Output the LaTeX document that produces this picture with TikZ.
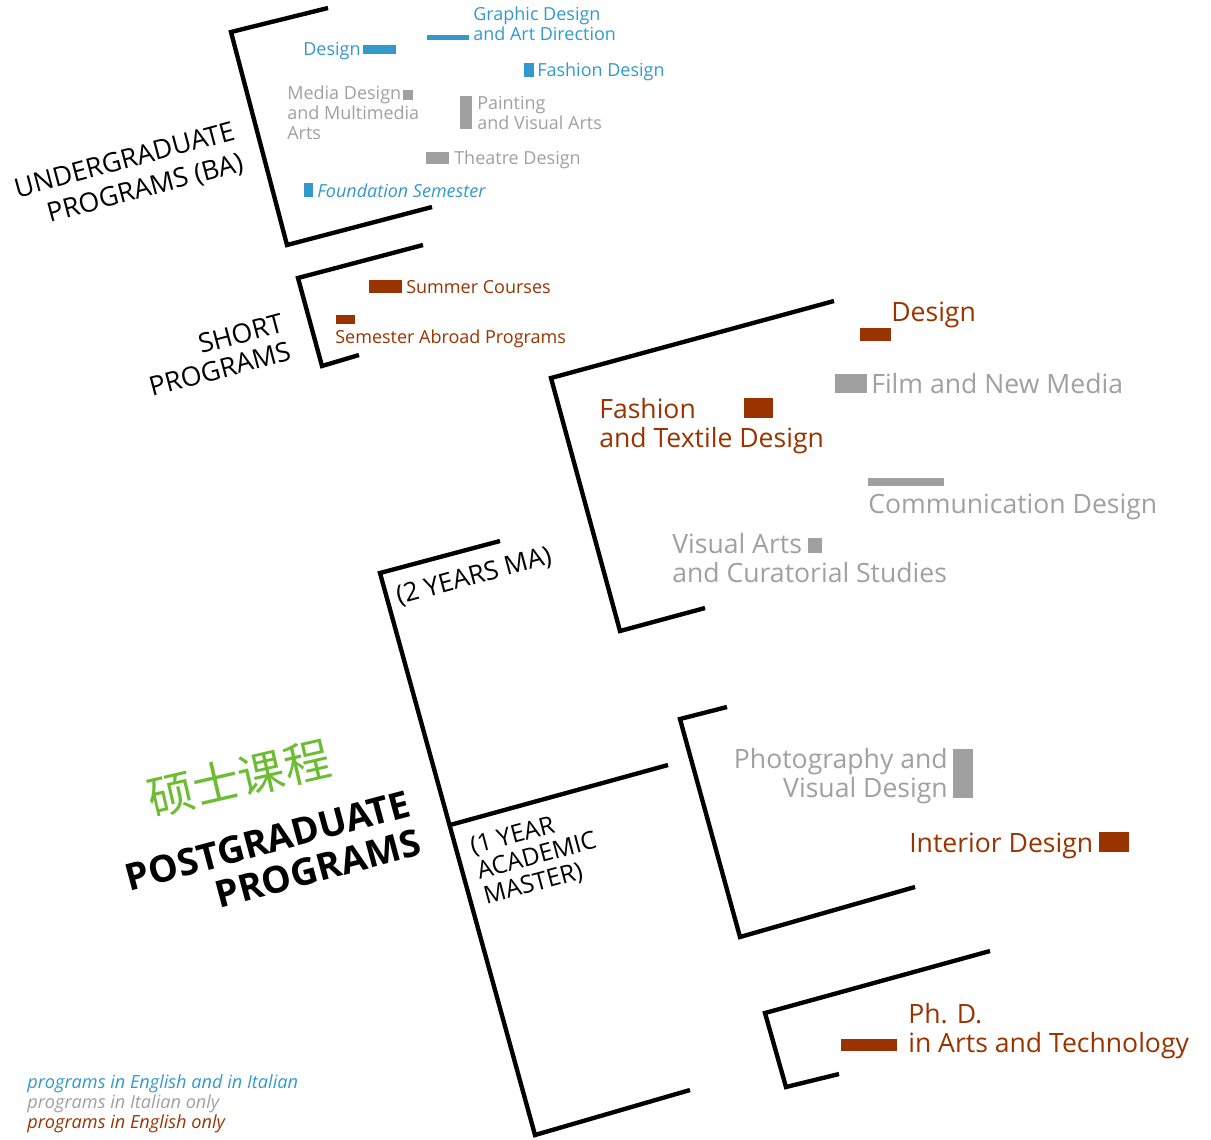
\documentclass[tikz,border=0pt]{standalone}
\usepackage{fontspec}
\setmainfont{Open Sans}
\newfontfamily\cjk{Noto Sans CJK SC}
\definecolor{enit}{RGB}{51,153,204}
\definecolor{itonly}{RGB}{160,160,160}
\definecolor{enonly}{RGB}{153,51,0}
\definecolor{cngreen}{RGB}{108,189,51}
\begin{document}
\begin{tikzpicture}[x=0.025cm,y=-0.025cm]
\tikzstyle{bracket}=[line width=3.1pt,black]
\tikzstyle{small}=[inner sep=0,align=left,anchor=base west,font=\fontsize{12.8}{14}\selectfont]
\tikzstyle{big}=[inner sep=0,align=left,anchor=base west,font=\fontsize{18.9}{20.6}\selectfont]
\tikzstyle{level}=[inner sep=0,rotate=15,font=\fontsize{19}{23}\selectfont]
\tikzstyle{key}=[small,font=\itshape\fontsize{12.9}{14.2}\selectfont]
\useasboundingbox (0,0) rectangle (1211,1139);

% brackets
\draw[bracket] (328,8) -- (231,32) -- (287,245) -- (432,207);
\draw[bracket] (423,245) -- (298,278) -- (322,366) -- (359,355);
\draw[bracket] (500,541) -- (380,573) -- (535,1135) -- (690,1090);
\draw[bracket] (450,825) -- (668,765);
\draw[bracket] (834,301) -- (551,378) -- (620,631) -- (705,608);
\draw[bracket] (727,707) -- (680,719) -- (740,937) -- (915,887);
\draw[bracket] (990,951) -- (765,1013) -- (786,1087) -- (839,1074);

% level labels
\node[level,align=right] (ug) at (129,177) {UNDERGRADUATE\\PROGRAMS (BA)};
\node[level,align=right,font=\fontsize{19}{20.5}\selectfont] (short) at (216,355) {SHORT\\PROGRAMS};
\node[level,align=right,font=\bfseries\fontsize{26.5}{28.5}\selectfont] (pg) at (273,860) {POSTGRADUATE\\PROGRAMS};
\node[inner sep=0,rotate=13,text=cngreen,font=\cjk\fontsize{33}{36}\selectfont] (cn) at (239,778) {硕士课程};
\node[level,font=\fontsize{18.5}{20}\selectfont] (ma2) at (474,577) {(2 YEARS MA)};
\node[level,align=left,font=\fontsize{17.5}{18.5}\selectfont] (ma1) at (537,857) {(1 YEAR\\ACADEMIC\\MASTER)};

% undergraduate programs
\node[small,text=enit] (ba-design) at (303,55) {Design};
\fill[enit] (363,45) rectangle (396,54);
\node[small,text=enit] (ba-graphic) at (473,40) {Graphic Design\\and Art Direction};
\fill[enit] (427,35) rectangle (469,40);
\node[small,text=enit] (ba-fashion) at (537,76) {Fashion Design};
\fill[enit] (524,63) rectangle (534,77);
\node[small,text=itonly] (ba-media) at (287,139) {Media Design\\and Multimedia\\Arts};
\fill[itonly] (403,90) rectangle (413,100);
\node[small,text=itonly] (ba-painting) at (477,129) {Painting\\and Visual Arts};
\fill[itonly] (460,96) rectangle (472,129);
\node[small,text=itonly] (ba-theatre) at (454,164) {Theatre Design};
\fill[itonly] (426,152) rectangle (449,164);
\node[small,text=enit,font=\itshape\fontsize{12.8}{14}\selectfont] (ba-found) at (317,197) {Foundation Semester};
\fill[enit] (304,183) rectangle (313,197);

% short programs
\node[small,text=enonly] (sh-summer) at (406,293) {Summer Courses};
\fill[enonly] (369,280) rectangle (402,293);
\node[small,text=enonly] (sh-abroad) at (335,343) {Semester Abroad Programs};
\fill[enonly] (336,315) rectangle (355,324);

% postgraduate programs
\node[big,text=enonly] (ma-design) at (891,321) {Design};
\fill[enonly] (860,328) rectangle (891,341);
\node[big,text=itonly] (ma-film) at (871,393) {Film and New Media};
\fill[itonly] (835,374) rectangle (867,393);
\node[big,text=enonly] (ma-fashion) at (599,447) {Fashion\\and Textile Design};
\fill[enonly] (744,398) rectangle (773,418);
\node[big,text=itonly] (ma-comm) at (868,513) {Communication Design};
\fill[itonly] (868,478) rectangle (944,486);
\node[big,text=itonly] (ma-visual) at (672,582) {Visual Arts\\and Curatorial Studies};
\fill[itonly] (808,538) rectangle (822,553);
\node[big,text=itonly,align=right,anchor=base east] (ma-photo) at (948,797) {Photography and\\Visual Design};
\fill[itonly] (953,749) rectangle (973,798);
\node[big,text=enonly] (ma-interior) at (909,852) {Interior Design};
\fill[enonly] (1099,832) rectangle (1129,852);
\node[big,text=enonly] (phd) at (908,1052) {Ph. D.\\in Arts and Technology};
\fill[enonly] (841,1039) rectangle (897,1051);

% legend
\node[key,text=enit] (key1) at (27,1088) {programs in English and in Italian};
\node[key,text=itonly] (key2) at (27,1108) {programs in Italian only};
\node[key,text=enonly] (key3) at (27,1128) {programs in English only};
\end{tikzpicture}
\end{document}
